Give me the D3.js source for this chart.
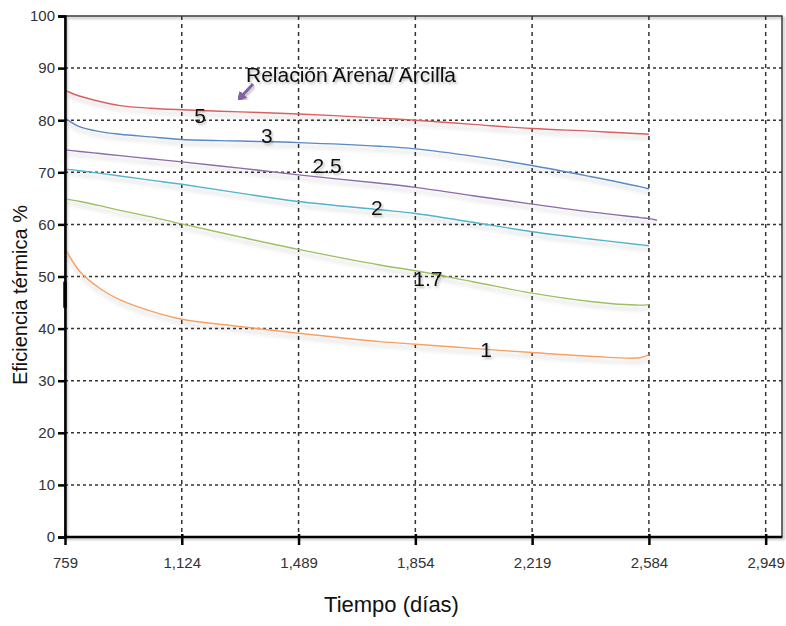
<!DOCTYPE html>
<html>
<head>
<meta charset="utf-8">
<script src="https://cdn.jsdelivr.net/npm/d3@7"></script>
<style>
  html, body { margin: 0; padding: 0; background: #fff; }
  svg { display: block; font-family: Arial, "Liberation Sans", sans-serif; }
</style>
</head>
<body>
<svg id="chart" width="786" height="626"></svg>
<script>
// ---- data ----
const days = [759, 806, 868, 931, 1025, 1124, 1306, 1489, 1743, 1854, 2034, 2219, 2400, 2556, 2584, 2609];
const ratio5   = [85.7, 84.6, 83.6, 82.8, 82.3, 82.0, 81.6, 81.2, 80.4, 80.0, 79.2, 78.4, 77.9, 77.4, 77.3, null];
const ratio3   = [80.4, 78.7, 77.8, 77.3, 76.8, 76.3, 76.0, 75.7, 75.0, 74.5, 73.1, 71.3, 69.2, 67.25, 66.8, null];
const ratio2_5 = [74.3, 74.0, 73.6, 73.2, 72.6, 72.0, 70.8, 69.5, 67.9, 67.1, 65.5, 63.9, 62.4, 61.3, 61.1, 60.8];
const ratio2   = [70.6, 70.3, 69.8, 69.3, 68.5, 67.7, 66.0, 64.4, 62.8, 62.1, 60.4, 58.6, 57.2, 56.1, 55.9, null];
const ratio1_7 = [64.9, 64.4, 63.6, 62.7, 61.5, 60.1, 57.6, 55.2, 52.2, 51.1, 49.0, 46.8, 45.2, 44.5, 44.6, null];
const ratio1   = [55.4, 50.9, 47.7, 45.5, 43.4, 41.8, 40.4, 39.1, 37.5, 37.0, 36.2, 35.4, 34.7, 34.4, 35.0, null];
const seriesNames  = ["5", "3", "2.5", "2", "1.7", "1"];
const seriesColors = ["#d9605f", "#5a89c4", "#8a6ca9", "#52b3cb", "#9dc062", "#f8a063"];
const seriesLabelPos = [[1181, 79.5], [1390, 75.6], [1578, 69.9], [1734, 61.8], [1893, 48.2], [2075, 34.5]]; // [day, value] label anchors
const xTicks = [759, 1124, 1489, 1854, 2219, 2584, 2949];
const yTicks = [0, 10, 20, 30, 40, 50, 60, 70, 80, 90, 100];
const annotation = "Relación Arena/ Arcilla";
const xTitle = "Tiempo (días)";
const yTitle = "Eficiencia térmica %";

const seriesValues = [ratio5, ratio3, ratio2_5, ratio2, ratio1_7, ratio1];

// ---- layout ----
const W = 786, H = 626;
const margin = {left: 65, top: 16, right: 4, bottom: 89};
const svg = d3.select("#chart");
const defs = svg.append("defs");
const sh = defs.append("filter").attr("id", "lineShadow")
  .attr("x", "-10%").attr("y", "-50%").attr("width", "120%").attr("height", "300%");
sh.append("feDropShadow").attr("dx", 1).attr("dy", 4).attr("stdDeviation", 2)
  .attr("flood-color", "#000").attr("flood-opacity", 0.22);
const tsh = defs.append("filter").attr("id", "textShadow");
tsh.append("feDropShadow").attr("dx", 1.5).attr("dy", 2).attr("stdDeviation", 1)
  .attr("flood-color", "#000").attr("flood-opacity", 0.25);
const bsh = defs.append("filter").attr("id", "boxShadow")
  .attr("x", "-5%").attr("y", "-5%").attr("width", "110%").attr("height", "110%");
bsh.append("feDropShadow").attr("dx", 2).attr("dy", 2).attr("stdDeviation", 1.2)
  .attr("flood-color", "#000").attr("flood-opacity", 0.3);

const x = d3.scaleLinear().domain([759, 3000]).range([margin.left, W - margin.right]);
const y = d3.scaleLinear().domain([0, 100]).range([H - margin.bottom, margin.top]);

// frame (top/right)
svg.append("rect")
  .attr("x", x(759)).attr("y", y(100))
  .attr("width", x(3000) - x(759)).attr("height", y(0) - y(100))
  .attr("fill", "none").attr("stroke", "#3a3a3a").attr("stroke-width", 1.5)
  .attr("filter", "url(#boxShadow)");

// grid
const grid = svg.append("g");
grid.selectAll("line.h").data(yTicks.filter(t => t > 0 && t < 100)).join("line")
  .attr("x1", x(759)).attr("x2", x(3000))
  .attr("y1", d => y(d)).attr("y2", d => y(d))
  .attr("stroke", "#333").attr("stroke-width", 1.5).attr("stroke-dasharray", "3,3");
grid.selectAll("line.v").data(xTicks.filter(t => t > 759)).join("line")
  .attr("x1", d => x(d)).attr("x2", d => x(d))
  .attr("y1", y(100)).attr("y2", y(0))
  .attr("stroke", "#333").attr("stroke-width", 1.5).attr("stroke-dasharray", "4,4");

// series
const line = d3.line()
  .defined(d => d[1] != null)
  .x(d => x(d[0])).y(d => y(d[1]))
  .curve(d3.curveCatmullRom.alpha(0.5));
const sg = svg.append("g");
seriesValues.forEach((vals, i) => {
  const pts = days.map((d, j) => [d, vals[j]]);
  sg.append("path").datum(pts)
    .attr("d", line)
    .attr("fill", "none")
    .attr("stroke", seriesColors[i])
    .attr("stroke-width", 1.4)
    .attr("filter", "url(#lineShadow)");
});

// axes
const yAxis = d3.axisLeft(y).tickValues(yTicks).tickSize(7).tickPadding(3);
const gy = svg.append("g").attr("transform", `translate(${x(759)},0)`).call(yAxis);
gy.select(".domain").attr("stroke", "#000").attr("stroke-width", 2.5);
gy.selectAll(".tick line").attr("stroke", "#000").attr("stroke-width", 2.5);
gy.selectAll(".tick text").attr("font-size", 15).attr("fill", "#333")
  .attr("font-family", "Arial, 'Liberation Sans', sans-serif");

const xAxis = d3.axisBottom(x).tickValues(xTicks).tickSize(8).tickPadding(12)
  .tickFormat(d3.format(","));
const gx = svg.append("g").attr("transform", `translate(0,${y(0)})`).call(xAxis);
gx.select(".domain").attr("stroke", "#000").attr("stroke-width", 2.5)
  .attr("d", `M${x(759)},0H${x(3000)}`);
gx.selectAll(".tick line").attr("stroke", "#000").attr("stroke-width", 2.5).attr("y1", -3);
gx.selectAll(".tick text").attr("font-size", 15).attr("fill", "#333")
  .attr("font-family", "Arial, 'Liberation Sans', sans-serif");

// small thick segment on the y axis (present in the source image)
svg.append("line")
  .attr("x1", x(759)).attr("x2", x(759))
  .attr("y1", y(49)).attr("y2", y(44))
  .attr("stroke", "#000").attr("stroke-width", 3.5);

// series labels
svg.append("g").selectAll("text").data(seriesNames).join("text")
  .attr("x", (d, i) => x(seriesLabelPos[i][0]))
  .attr("y", (d, i) => y(seriesLabelPos[i][1]))
  .attr("text-anchor", "middle")
  .attr("font-size", 21)
  .attr("fill", "#111")
  .attr("filter", "url(#textShadow)")
  .text(d => d);

// annotation
svg.append("text")
  .attr("x", 246).attr("y", 82)
  .attr("font-size", 19.5)
  .attr("fill", "#111")
  .attr("textLength", 210).attr("lengthAdjust", "spacingAndGlyphs")
  .attr("filter", "url(#textShadow)")
  .text(annotation);

// arrow
const mk = defs.append("marker").attr("id", "arrowHead")
  .attr("viewBox", "0 0 10 10").attr("refX", 5).attr("refY", 5)
  .attr("markerWidth", 3.4).attr("markerHeight", 3.4).attr("orient", "auto");
mk.append("path").attr("d", "M0,0L10,5L0,10z").attr("fill", "#8064a2");
svg.append("line")
  .attr("x1", 253).attr("y1", 84).attr("x2", 240).attr("y2", 98)
  .attr("stroke", "#8064a2").attr("stroke-width", 3)
  .attr("marker-end", "url(#arrowHead)")
  .attr("filter", "url(#textShadow)");

// axis titles
svg.append("text")
  .attr("x", (x(759) + x(3000)) / 2 - 32).attr("y", 612)
  .attr("text-anchor", "middle")
  .attr("font-size", 22).attr("fill", "#111")
  .text(xTitle);
svg.append("text")
  .attr("transform", "translate(27,295) rotate(-90)")
  .attr("text-anchor", "middle")
  .attr("font-size", 20).attr("fill", "#111")
  .text(yTitle);
</script>
</body>
</html>
